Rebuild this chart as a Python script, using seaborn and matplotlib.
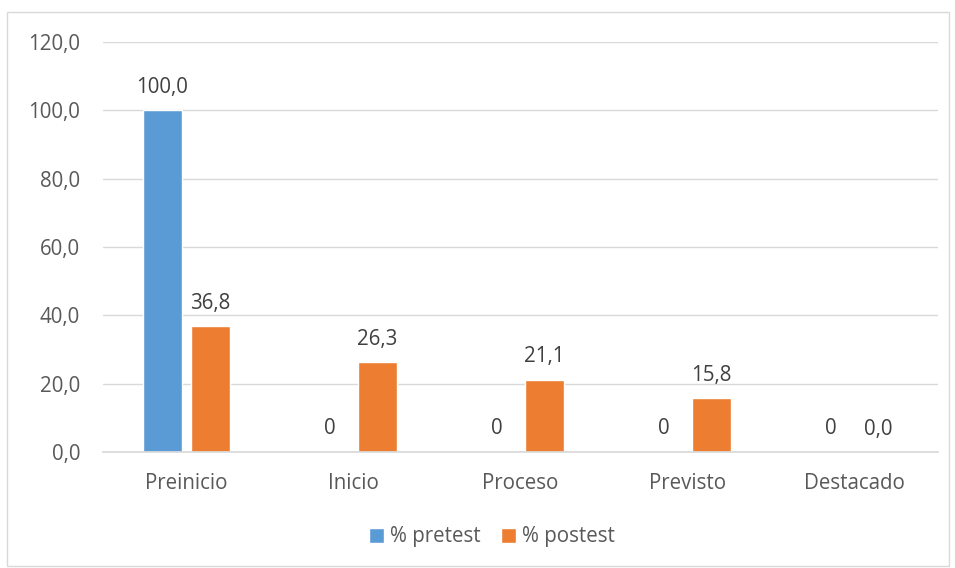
import matplotlib
matplotlib.use("Agg")
import matplotlib.pyplot as plt
import seaborn as sns
import pandas as pd
from matplotlib.patches import Rectangle

categories = ["Preinicio", "Inicio", "Proceso", "Previsto", "Destacado"]
series = ["% pretest", "% postest"]
pretest = [100.0, 0, 0, 0, 0]
postest = [36.8, 26.3, 21.1, 15.8, 0.0]
pretest_labels = ["100,0", "0", "0", "0", "0"]
postest_labels = ["36,8", "26,3", "21,1", "15,8", "0,0"]
yticks = [0, 20, 40, 60, 80, 100, 120]
ytick_labels = ["0,0", "20,0", "40,0", "60,0", "80,0", "100,0", "120,0"]
colors = ["#5B9BD5", "#ED7D31"]

df = pd.DataFrame({
    "cat": categories * 2,
    "serie": [series[0]] * 5 + [series[1]] * 5,
    "val": pretest + postest,
})

sns.set_theme(style="white")
plt.rcParams["font.family"] = ["Open Sans", "DejaVu Sans"]
txt = "#595959"
fs = 14.8

fig = plt.figure(figsize=(9.55, 5.68), dpi=100)
ax = fig.add_axes([103 / 955, 1 - 452 / 568, (938 - 103) / 955, (452 - 42) / 568])

sns.barplot(data=df, x="cat", y="val", hue="serie", palette=colors,
            width=0.575, gap=0.2, ax=ax, legend=True, saturation=1)

for cont, labs in zip(ax.containers, [pretest_labels, postest_labels]):
    ax.bar_label(cont, labels=labs, padding=9, fontsize=fs, color="#404040")

ax.set_ylim(0, 120)
ax.set_yticks(yticks)
ax.set_yticklabels(ytick_labels)
ax.set_xlim(-0.5, 4.5)
ax.yaxis.grid(True, color="#D9D9D9", linewidth=1)
ax.set_axisbelow(True)
for s in ["top", "right", "left"]:
    ax.spines[s].set_visible(False)
ax.spines["bottom"].set_color("#D9D9D9")
ax.tick_params(axis="both", length=0, labelsize=fs, labelcolor=txt)
ax.tick_params(axis="y", pad=16.5)
ax.tick_params(axis="x", pad=15)
ax.set_xlabel("")
ax.set_ylabel("")

leg = ax.legend(loc="center", bbox_to_anchor=((492 - 103) / 835, -0.207), ncol=2,
                frameon=False, fontsize=fs, handlelength=0.72, handleheight=0.72,
                handletextpad=0.3, columnspacing=1.0)
for t in leg.get_texts():
    t.set_color(txt)

fig.patches.append(Rectangle((7 / 955, 2 / 568), 942 / 955, 554 / 568,
                             transform=fig.transFigure, fill=False,
                             edgecolor="#D9D9D9", linewidth=1))

fig.savefig("out.png", dpi=100)
